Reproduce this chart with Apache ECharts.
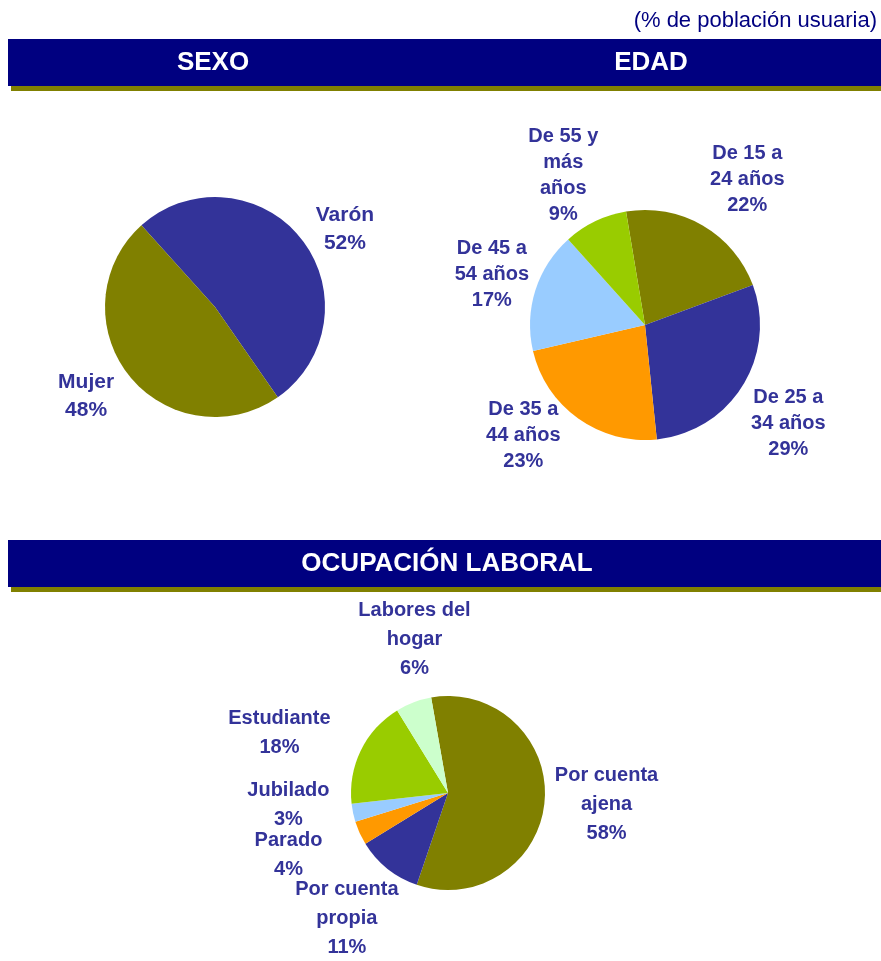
<!DOCTYPE html>
<html>
<head>
<meta charset="utf-8">
<script src="https://cdn.jsdelivr.net/npm/echarts@6/dist/echarts.min.js"></script>
<style>
  html, body { margin: 0; padding: 0; background: #fff; }
  #main { width: 881px; height: 961px; }
</style>
</head>
<body>
<div id="main"></div>
<script>
// datos (% de población usuaria)
var sexoNombres = ['Varón', 'Mujer'];
var sexoValores = [52, 48];

var edadNombres = ['De 15 a\n24 años', 'De 25 a\n34 años', 'De 35 a\n44 años', 'De 45 a\n54 años', 'De 55 y\nmás\naños'];
var edadValores = [22, 29, 23, 17, 9];

var ocupNombres = ['Por cuenta\najena', 'Por cuenta\npropia', 'Parado', 'Jubilado', 'Estudiante', 'Labores del\nhogar'];
var ocupValores = [58, 11, 4, 3, 18, 6];

var FONT = '"Liberation Sans", Arial, sans-serif';
var NAVY = '#000080', OLIVA = '#808000', AZUL = '#333399';

// ajuste fino de etiquetas (dx, dy) respecto a la posicion radial
var ajusteSexo = [[10, 17], [-9, -6]];
var ajusteEdad = [[17, 2], [-1, 9], [-23, -28], [9, 1], [-8, 4]];
var ajusteOcup = [[-3, -1], [0, -1], [-12, -5], [-1, -21], [-23, 11], [24, -2]];

function tarta(nombres, valores, colores, centro, radio, inicio, gap, ajuste, fs, lh) {
    var total = valores.reduce(function (a, b) { return a + b; }, 0);
    var medios = [], acum = 0;
    valores.forEach(function (v) {
        medios.push((inicio - 360 * (acum + v / 2) / total) * Math.PI / 180);
        acum += v;
    });
    return {
        type: 'pie',
        center: centro,
        radius: radio,
        startAngle: inicio,
        clockwise: true,
        avoidLabelOverlap: false,
        silent: true,
        itemStyle: { borderWidth: 0 },
        color: colores,
        label: {
            show: true,
            position: 'outside',
            color: AZUL,
            fontFamily: FONT,
            fontWeight: 'bold',
            fontSize: fs,
            lineHeight: lh,
            formatter: function (p) { return p.name + '\n' + p.value + '%'; }
        },
        labelLine: { show: false, length: 10, length2: 0 },
        labelLayout: function (p) {
            var a = medios[p.dataIndex], d = radio + gap, aj = ajuste[p.dataIndex];
            return {
                x: centro[0] + d * Math.cos(a) + aj[0],
                y: centro[1] - d * Math.sin(a) + aj[1],
                align: 'center',
                verticalAlign: 'middle'
            };
        },
        emphasis: { disabled: true },
        data: nombres.map(function (n, i) { return { name: n, value: valores[i] }; })
    };
}

function barra(y, textos) {
    var els = [
        { type: 'rect', shape: { x: 11, y: y + 5, width: 870, height: 47 }, style: { fill: OLIVA } },
        { type: 'rect', shape: { x: 8, y: y, width: 873, height: 47 }, style: { fill: NAVY } }
    ];
    textos.forEach(function (t) {
        els.push({
            type: 'text', x: t[1], y: y + 24,
            style: { text: t[0], fill: '#fff', font: 'bold 26px ' + FONT, align: 'center', verticalAlign: 'middle' }
        });
    });
    return els;
}

var myChart = echarts.init(document.getElementById('main'), null, { renderer: 'canvas' });
var option = {
    animation: false,
    backgroundColor: '#fff',
    graphic: [
        {
            type: 'text', x: 877, y: 21,
            style: { text: '(% de población usuaria)', fill: NAVY, font: '22px ' + FONT, align: 'right', verticalAlign: 'middle' }
        }
    ].concat(barra(39, [['SEXO', 213], ['EDAD', 651]]))
     .concat(barra(540, [['OCUPACIÓN LABORAL', 447]])),
    series: [
        tarta(sexoNombres, sexoValores, [AZUL, OLIVA], [215, 307], 110, 132, 43, ajusteSexo, 21, 28),
        tarta(edadNombres, edadValores, [OLIVA, AZUL, '#FF9900', '#99CCFF', '#99CC00'], [645, 325], 115, 99.5, 55, ajusteEdad, 20, 26),
        tarta(ocupNombres, ocupValores, [OLIVA, AZUL, '#FF9900', '#99CCFF', '#99CC00', '#CCFFCC'], [448, 793], 97, 100, 65, ajusteOcup, 20, 29)
    ]
};
myChart.setOption(option);
</script>
</body>
</html>
